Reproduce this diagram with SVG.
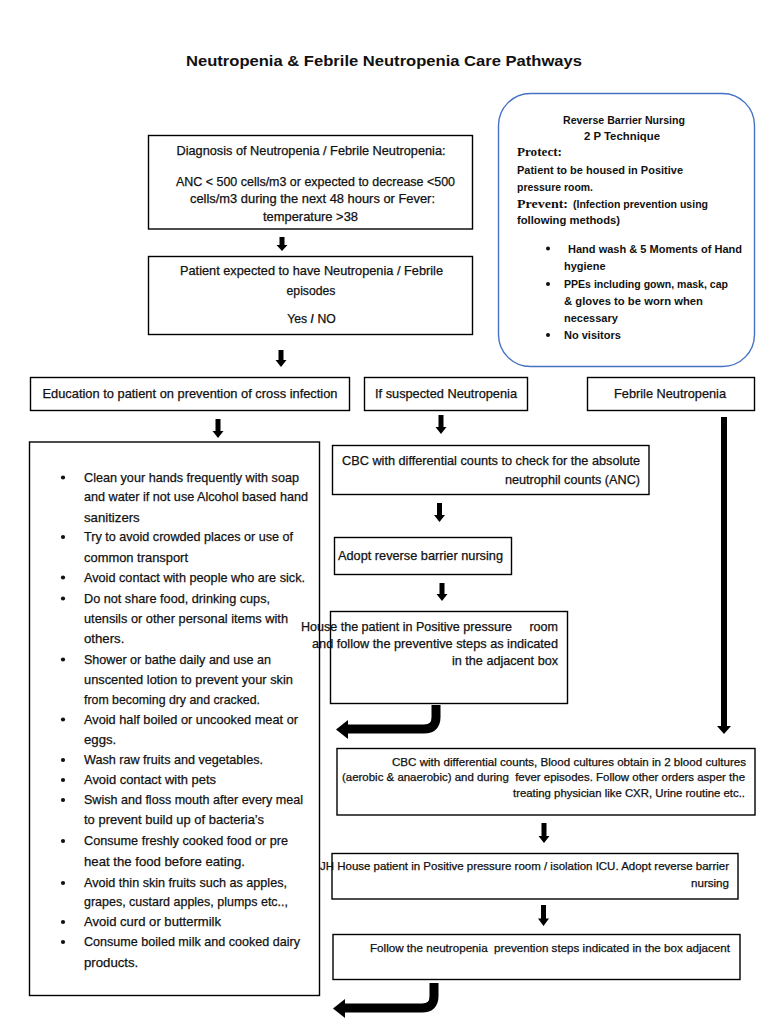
<svg xmlns="http://www.w3.org/2000/svg" width="768" height="1024" viewBox="0 0 768 1024">
<style>
.bg{fill:#fff}
.box{fill:#fff;stroke:#000;stroke-width:1.4}
.rbox{fill:#fff;stroke:#4472C4;stroke-width:1.4}
.t{font-family:"Liberation Sans",Arial,sans-serif;fill:#111;stroke:#111;stroke-width:0.25}
.s11{font-size:12.2px}
.s10{font-size:11px}
.s12{font-size:13.2px}
.b{font-weight:bold;stroke-width:0}
.ser{font-family:"Liberation Serif","Times New Roman",serif;font-weight:bold;fill:#111}
.arr{fill:#000}
.bend{fill:none;stroke:#000;stroke-width:9}
.dot{fill:#111}
</style>
<rect class="bg" x="0" y="0" width="768" height="1024"/>

<g id="title">
<text class="t b" x="384" y="65.5" font-size="15.5" text-anchor="middle" textLength="396" lengthAdjust="spacingAndGlyphs">Neutropenia &amp; Febrile Neutropenia Care Pathways</text>
</g>

<g id="diagnosis">
<rect class="box" x="148.5" y="135.5" width="324" height="93.5"/>
<text class="t s11" x="311" y="154.5" text-anchor="middle" textLength="269" lengthAdjust="spacingAndGlyphs">Diagnosis of Neutropenia / Febrile Neutropenia:</text>
<text class="t s11" x="315.5" y="185.5" text-anchor="middle" textLength="279" lengthAdjust="spacingAndGlyphs">ANC &lt; 500 cells/m3 or expected to decrease &lt;500</text>
<text class="t s11" x="312.5" y="202.5" text-anchor="middle" textLength="245" lengthAdjust="spacingAndGlyphs">cells/m3 during the next 48 hours or Fever:</text>
<text class="t s11" x="310.5" y="220.5" text-anchor="middle" textLength="95" lengthAdjust="spacingAndGlyphs">temperature &gt;38</text>
</g>

<g id="expected">
<rect class="box" x="148.5" y="256.5" width="324" height="78"/>
<text class="t s11" x="311.5" y="274.5" text-anchor="middle" textLength="263" lengthAdjust="spacingAndGlyphs">Patient expected to have Neutropenia / Febrile</text>
<text class="t s11" x="311" y="294.5" text-anchor="middle">episodes</text>
<text class="t s11" x="311.5" y="322.5" text-anchor="middle">Yes <tspan class="b">/</tspan> NO</text>
</g>

<g id="reverse-barrier">
<rect class="rbox" x="498.5" y="93.5" width="256" height="273" rx="32" ry="32"/>
<text class="t s10 b" x="624" y="124" text-anchor="middle" textLength="122" lengthAdjust="spacingAndGlyphs">Reverse Barrier Nursing</text>
<text class="t s10 b" x="622" y="140" text-anchor="middle" textLength="76" lengthAdjust="spacingAndGlyphs">2 P Technique</text>
<text class="ser" x="517" y="155.5" font-size="12.5" textLength="45" lengthAdjust="spacingAndGlyphs">Protect:</text>
<text class="t s10 b" x="517" y="174" textLength="166" lengthAdjust="spacingAndGlyphs">Patient to be housed in Positive</text>
<text class="t s10 b" x="517" y="191" textLength="76" lengthAdjust="spacingAndGlyphs">pressure room.</text>
<text class="ser" x="517" y="208" font-size="12.5" textLength="51" lengthAdjust="spacingAndGlyphs">Prevent:</text>
<text class="t s10 b" x="573" y="208" textLength="135" lengthAdjust="spacingAndGlyphs">(Infection prevention using</text>
<text class="t s10 b" x="517" y="224" textLength="103" lengthAdjust="spacingAndGlyphs">following methods)</text>
<circle class="dot" cx="548" cy="248.5" r="2"/>
<text class="t s10 b" x="568" y="252.5" textLength="174" lengthAdjust="spacingAndGlyphs">Hand wash &amp; 5 Moments of Hand</text>
<text class="t s10 b" x="564" y="269.5">hygiene</text>
<circle class="dot" cx="548" cy="284" r="2"/>
<text class="t s10 b" x="564" y="288" textLength="164" lengthAdjust="spacingAndGlyphs">PPEs including gown, mask, cap</text>
<text class="t s10 b" x="564" y="304.5" textLength="139" lengthAdjust="spacingAndGlyphs">&amp; gloves to be worn when</text>
<text class="t s10 b" x="564" y="321.5">necessary</text>
<circle class="dot" cx="548" cy="335" r="2"/>
<text class="t s10 b" x="564" y="339">No visitors</text>
</g>

<g id="education">
<rect class="box" x="30.5" y="377.5" width="319" height="33"/>
<text class="t s11" x="190" y="398" text-anchor="middle" textLength="295" lengthAdjust="spacingAndGlyphs">Education to patient on prevention of cross infection</text>
</g>

<g id="suspected">
<rect class="box" x="364.5" y="377.5" width="163" height="33"/>
<text class="t s11" x="446" y="398" text-anchor="middle" textLength="142" lengthAdjust="spacingAndGlyphs">If suspected Neutropenia</text>
</g>

<g id="febrile">
<rect class="box" x="587.5" y="377.5" width="167" height="33"/>
<text class="t s11" x="670" y="398" text-anchor="middle" textLength="112" lengthAdjust="spacingAndGlyphs">Febrile Neutropenia</text>
</g>

<g id="prevention-list">
<rect class="box" x="29.5" y="442" width="290" height="553.5"/>
<g class="t s12">
<text x="84" y="481.5" textLength="215" lengthAdjust="spacingAndGlyphs">Clean your hands frequently with soap</text>
<text x="84" y="501" textLength="224" lengthAdjust="spacingAndGlyphs">and water if not use Alcohol based hand</text>
<text x="84" y="521.5">sanitizers</text>
<text x="84" y="541" textLength="209" lengthAdjust="spacingAndGlyphs">Try to avoid crowded places or use of</text>
<text x="84" y="561.5" textLength="104" lengthAdjust="spacingAndGlyphs">common transport</text>
<text x="84" y="581.5" textLength="221" lengthAdjust="spacingAndGlyphs">Avoid contact with people who are sick.</text>
<text x="84" y="602.5" textLength="186" lengthAdjust="spacingAndGlyphs">Do not share food, drinking cups,</text>
<text x="84" y="622.5" textLength="204" lengthAdjust="spacingAndGlyphs">utensils or other personal items with</text>
<text x="84" y="642.5">others.</text>
<text x="84" y="663.5" textLength="187" lengthAdjust="spacingAndGlyphs">Shower or bathe daily and use an</text>
<text x="84" y="683.5" textLength="209" lengthAdjust="spacingAndGlyphs">unscented lotion to prevent your skin</text>
<text x="84" y="703.5" textLength="176" lengthAdjust="spacingAndGlyphs">from becoming dry and cracked.</text>
<text x="84" y="723.5" textLength="214" lengthAdjust="spacingAndGlyphs">Avoid half boiled or uncooked meat or</text>
<text x="84" y="743.5">eggs.</text>
<text x="84" y="764" textLength="179" lengthAdjust="spacingAndGlyphs">Wash raw fruits and vegetables.</text>
<text x="84" y="784" textLength="132" lengthAdjust="spacingAndGlyphs">Avoid contact with pets</text>
<text x="84" y="804" textLength="219" lengthAdjust="spacingAndGlyphs">Swish and floss mouth after every meal</text>
<text x="84" y="824" textLength="180" lengthAdjust="spacingAndGlyphs">to prevent build up of bacteria’s</text>
<text x="84" y="845" textLength="204" lengthAdjust="spacingAndGlyphs">Consume freshly cooked food or pre</text>
<text x="84" y="866" textLength="161" lengthAdjust="spacingAndGlyphs">heat the food before eating.</text>
<text x="84" y="887" textLength="203" lengthAdjust="spacingAndGlyphs">Avoid thin skin fruits such as apples,</text>
<text x="84" y="906" textLength="204" lengthAdjust="spacingAndGlyphs">grapes, custard apples, plumps etc..,</text>
<text x="84" y="926" textLength="137" lengthAdjust="spacingAndGlyphs">Avoid curd or buttermilk</text>
<text x="84" y="946" textLength="216" lengthAdjust="spacingAndGlyphs">Consume boiled milk and cooked dairy</text>
<text x="84" y="966.5">products.</text>
</g>
<g class="dot">
<circle cx="63" cy="477.5" r="2.1"/>
<circle cx="63" cy="537" r="2.1"/>
<circle cx="63" cy="577.5" r="2.1"/>
<circle cx="63" cy="598.5" r="2.1"/>
<circle cx="63" cy="659.5" r="2.1"/>
<circle cx="63" cy="719.5" r="2.1"/>
<circle cx="63" cy="760" r="2.1"/>
<circle cx="63" cy="780" r="2.1"/>
<circle cx="63" cy="800" r="2.1"/>
<circle cx="63" cy="841" r="2.1"/>
<circle cx="63" cy="883" r="2.1"/>
<circle cx="63" cy="922" r="2.1"/>
<circle cx="63" cy="942" r="2.1"/>
</g>
</g>

<g id="cbc-anc">
<rect class="box" x="332.5" y="445.5" width="316.5" height="49"/>
<text class="t s11" x="640" y="465" text-anchor="end" textLength="298" lengthAdjust="spacingAndGlyphs">CBC with differential counts to check for the absolute</text>
<text class="t s11" x="640" y="483.5" text-anchor="end" textLength="135" lengthAdjust="spacingAndGlyphs">neutrophil counts (ANC)</text>
</g>

<g id="adopt-rbn">
<rect class="box" x="334.5" y="537.5" width="177" height="37"/>
<text class="t s11" x="338" y="560" textLength="165" lengthAdjust="spacingAndGlyphs">Adopt reverse barrier nursing</text>
</g>

<g id="house-positive">
<rect class="box" x="330.5" y="611.5" width="237" height="92"/>
<text class="t s11" x="558" y="631" text-anchor="end" textLength="257" lengthAdjust="spacingAndGlyphs" xml:space="preserve">House the patient in Positive pressure     room</text>
<text class="t s11" x="558" y="647.5" text-anchor="end" textLength="246" lengthAdjust="spacingAndGlyphs">and follow the preventive steps as indicated</text>
<text class="t s11" x="558" y="665" text-anchor="end" textLength="106" lengthAdjust="spacingAndGlyphs">in the adjacent box</text>
</g>

<g id="cbc-cultures">
<rect class="box" x="337" y="748.5" width="418" height="66.5"/>
<text class="t s10" x="746" y="765.5" text-anchor="end" textLength="354" lengthAdjust="spacingAndGlyphs">CBC with differential counts, Blood cultures obtain in 2 blood cultures</text>
<text class="t s10" x="745" y="781" text-anchor="end" textLength="403" lengthAdjust="spacingAndGlyphs" xml:space="preserve">(aerobic &amp; anaerobic) and during  fever episodes. Follow other orders asper the</text>
<text class="t s10" x="745" y="796.5" text-anchor="end" textLength="232" lengthAdjust="spacingAndGlyphs">treating physician like CXR, Urine routine etc..</text>
</g>

<g id="house-icu">
<rect class="box" x="332" y="853.5" width="406" height="45.5"/>
<text class="t s10" x="729" y="869.5" text-anchor="end" textLength="409" lengthAdjust="spacingAndGlyphs">JH House patient in Positive pressure room / isolation ICU. Adopt reverse barrier</text>
<text class="t s10" x="729" y="886.5" text-anchor="end" textLength="38" lengthAdjust="spacingAndGlyphs">nursing</text>
</g>

<g id="follow-steps">
<rect class="box" x="333" y="934.5" width="407" height="45"/>
<text class="t s10" x="730" y="951.5" text-anchor="end" textLength="360" lengthAdjust="spacingAndGlyphs" xml:space="preserve">Follow the neutropenia  prevention steps indicated in the box adjacent</text>
</g>

<g id="connectors">
<path class="arr" d="M279.5,237 H284.5 V245 H287.5 L282,251 L276.5,245 H279.5 Z"/>
<path class="arr" d="M278.5,350 H283.5 V360 H286.5 L281,367 L275.5,360 H278.5 Z"/>
<path class="arr" d="M215.5,419 H220.5 V431 H223.5 L218,438 L212.5,431 H215.5 Z"/>
<path class="arr" d="M438.5,415 H443.5 V427 H446.5 L441,434 L435.5,427 H438.5 Z"/>
<path class="arr" d="M437,503 H442 V515 H445 L439.5,522 L434,515 H437 Z"/>
<path class="arr" d="M439.5,583 H444.5 V594 H447.5 L442,601 L436.5,594 H439.5 Z"/>
<path class="arr" d="M541.5,823 H546.5 V836 H549.5 L544,843 L538.5,836 H541.5 Z"/>
<path class="arr" d="M541,905 H546 V918.5 H549 L543.5,926 L538,918.5 H541 Z"/>
<path class="arr" d="M721,417 H727 V726 H731 L724,734 L717,726 H721 Z"/>
<path class="bend" d="M436,705 V717 Q436,729 424,729 H346"/>
<path class="arr" d="M336,729.5 L348,720 L348,739 Z"/>
<path class="bend" d="M434,983 V996 Q434,1008 422,1008 H343"/>
<path class="arr" d="M333,1008.5 L345,999 L345,1018 Z"/>
</g>
</svg>
